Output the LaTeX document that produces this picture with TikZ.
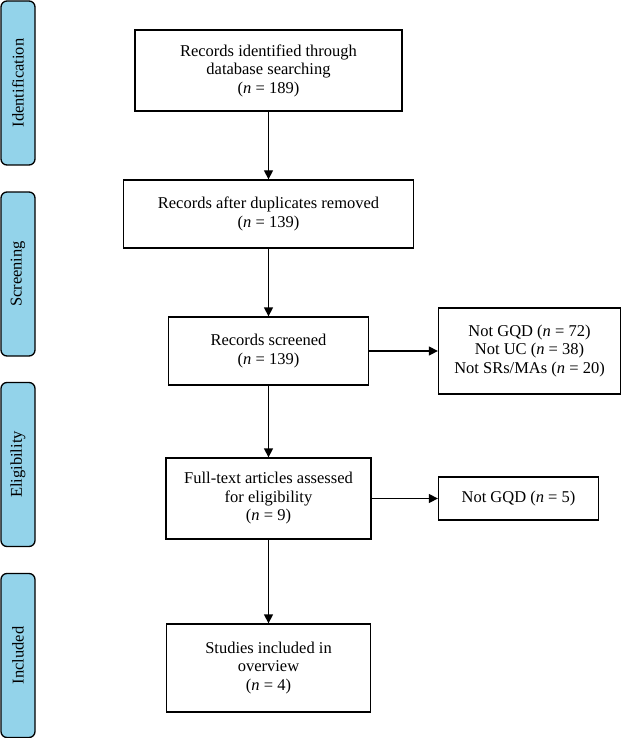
\documentclass[tikz,border=0pt]{standalone}
\usepackage{fontspec}
\setmainfont{Liberation Serif}
\usetikzlibrary{positioning, arrows.meta}
\definecolor{phaseblue}{HTML}{93D3EA}

\begin{document}
\begin{tikzpicture}[x=1pt, y=1pt, >={Triangle[length=9pt, width=9pt]}, on grid, line width=1.3pt,
        box/.style={draw, align=center, inner sep=0pt, font=\fontsize{16.5}{18.5}\selectfont},
        phase/.style={draw, fill=phaseblue, rounded corners=6pt, rotate=90, minimum width=164pt,
            minimum height=34pt, inner sep=0pt, font=\fontsize{16.5}{18.5}\selectfont}]
            \useasboundingbox (0,0) rectangle (621,-738);

            % phases on the left
            \node[phase] (Identification) at (18,-83) {Identification};
            \node[phase] (Screening) at (18,-274) {Screening};
            \node[phase] (Eligibility) at (18,-464.5) {Eligibility};
            \node[phase] (Included) at (18,-655.5) {Included};

            % main flow
            \node[box, minimum width=267pt, minimum height=81pt] (Ident) at (268.5,-70.5)
                {Records identified through\\database searching\\(\textit{n} = 189)};
            \node[box, minimum width=290pt, minimum height=68pt, below=143.5pt of Ident] (Dup)
                {Records after duplicates removed\\(\textit{n} = 139)};
            \node[box, minimum width=200pt, minimum height=68pt, below=137pt of Dup] (Screen)
                {Records screened\\(\textit{n} = 139)};
            \node[box, minimum width=205pt, minimum height=81pt, below=147.5pt of Screen] (Full)
                {Full-text articles assessed\\for eligibility\\(\textit{n} = 9)};
            \node[box, minimum width=204pt, minimum height=88pt, below=169.5pt of Full] (Incl)
                {Studies included in\\overview\\(\textit{n} = 4)};

            % exclusions
            \node[box, minimum width=182pt, minimum height=86pt, right=261pt of Screen] (ExclScreen)
                {Not GQD (\textit{n} = 72)\\Not UC (\textit{n} = 38)\\Not SRs/MAs (\textit{n} = 20)};
            \node[box, minimum width=160pt, minimum height=43pt, right=250pt of Full] (ExclFull)
                {Not GQD (\textit{n} = 5)};

            \path[->]
            (Ident) edge (Dup)
            (Dup) edge (Screen)
            (Screen) edge (Full)
            (Full) edge (Incl)
            (Screen) edge (ExclScreen)
            (Full) edge (ExclFull);
        \end{tikzpicture}
\end{document}
